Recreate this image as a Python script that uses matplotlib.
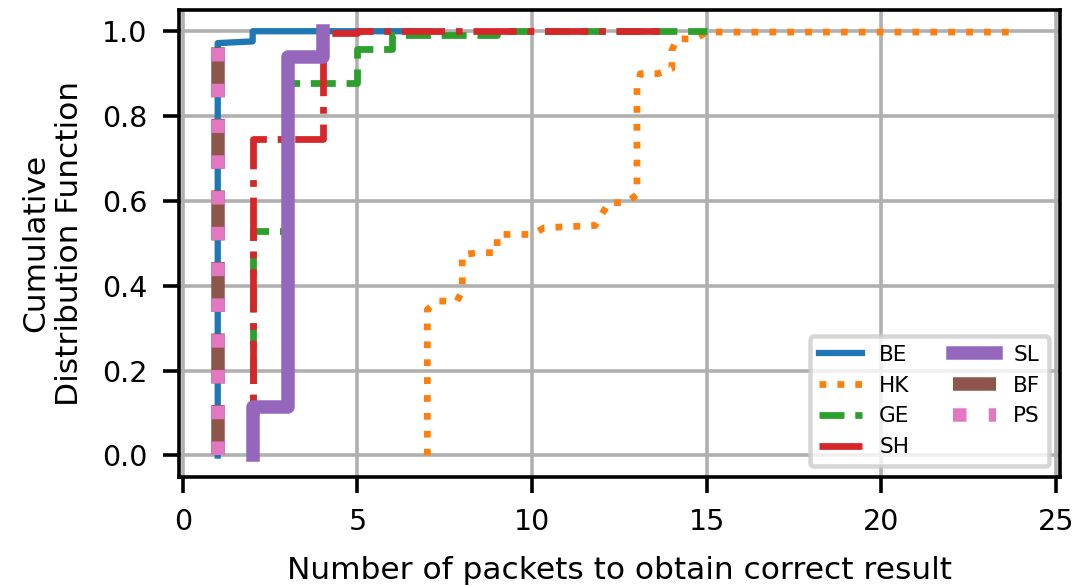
import numpy as np
import matplotlib
matplotlib.use("Agg")
import matplotlib.pyplot as plt

# step-CDF vertices
be_x = [1, 1, 2, 2, 7.07]
be_y = [0, 0.972, 0.976, 1.0, 1.0]

hk_x = [7, 7, 7.3, 7.85, 8, 8, 8.5, 9, 9, 10, 10.35, 11.8, 12, 12.2, 12.7, 13, 13, 13.1, 13.6, 14, 14, 14.15, 14.65, 15, 23.75]
hk_y = [0, 0.344, 0.364, 0.364, 0.389, 0.474, 0.478, 0.478, 0.521, 0.521, 0.537, 0.542, 0.570, 0.596, 0.596, 0.615, 0.867, 0.900, 0.900, 0.912, 0.955, 0.982, 0.982, 0.998, 0.998]

ge_x = [2, 2, 3, 3, 5, 5, 6, 6, 9, 9, 15]
ge_y = [0, 0.53, 0.53, 0.879, 0.879, 0.958, 0.958, 0.99, 0.99, 1.0, 1.0]

sh_x = [2, 2, 4, 4, 5, 5, 13.9]
sh_y = [0, 0.745, 0.745, 0.995, 0.995, 1.0, 1.0]

sl_x = [2, 2, 3, 3, 4, 4]
sl_y = [0, 0.115, 0.115, 0.94, 0.94, 1.0]

bf_x = [1, 1]
bf_y = [0, 1.0]

ps_x = [1, 1]
ps_y = [0, 1.0]

fig = plt.figure(figsize=(1078 / 324, 586 / 324), dpi=324)
ax = fig.add_axes([0.166, 0.1865, 0.8173, 0.7964])

ax.plot(be_x, be_y, color="C0", linestyle="-", linewidth=1.4, label="BE")
ax.plot(hk_x, hk_y, color="C1", linestyle=":", linewidth=1.5, label="HK")
ax.plot(ge_x, ge_y, color="C2", linestyle="--", linewidth=1.5, label="GE")
ax.plot(sh_x, sh_y, color="C3", linestyle="-.", linewidth=1.5, label="SH")
ax.plot(sl_x, sl_y, color="C4", linestyle="-", linewidth=3, label="SL")
ax.plot(bf_x, bf_y, color="C5", linestyle="--", linewidth=3, label="BF")
ax.plot(ps_x, ps_y, color="C6", linestyle=":", linewidth=3, label="PS")

ax.set_xlim(-0.11, 25.11)
ax.set_ylim(-0.05, 1.05)
ax.set_xticks([0, 5, 10, 15, 20, 25])
ax.set_yticks([0.0, 0.2, 0.4, 0.6, 0.8, 1.0])
ax.tick_params(labelsize=6.35)
ax.grid(True)
ax.set_xlabel("Number of packets to obtain correct result", fontsize=6.95, labelpad=4.5)
ax.set_ylabel("Cumulative\nDistribution Function", fontsize=6.95, labelpad=4)
ax.legend(loc="lower right", ncol=2, fontsize=4.8)

fig.savefig("out.png", dpi=324)
